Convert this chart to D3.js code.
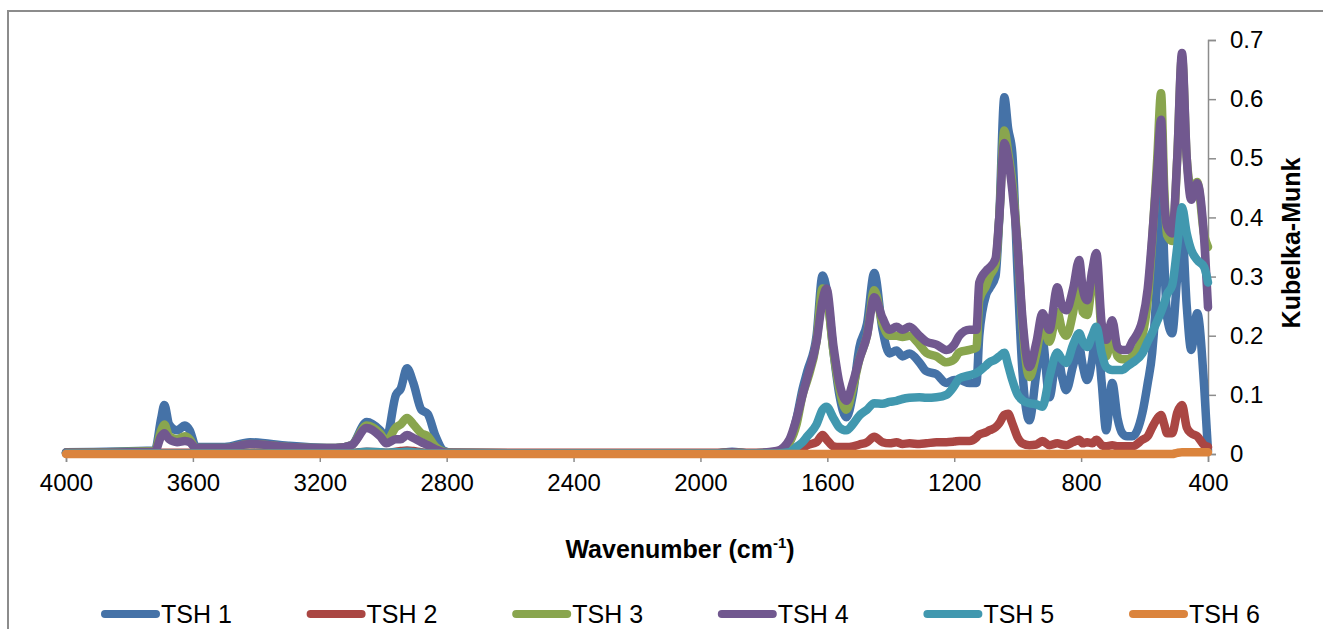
<!DOCTYPE html>
<html lang="en">
<head>
	<meta charset="UTF-8">
	<title>Kubelka-Munk spectra</title>
	<script type="text/javascript" src="https://d3js.org/d3.v7.min.js"></script>
	<style>
		body { margin: 0; background: #fff; }
		text { font-family: "Liberation Sans", Arial, sans-serif; fill: #000; }
	</style>
</head>
<body>
<script>
  // wavenumber grid (cm-1), shared by every series
  const wavenumbers = [
    4000, 3720, 3700, 3690, 3675, 3650, 3625, 3610, 3590, 3500,
    3420, 3300, 3150, 3100, 3052, 3010, 2990, 2960, 2945, 2925,
    2905, 2880, 2860, 2835, 2810, 2780, 2400, 1950, 1900, 1850,
    1760, 1719, 1697, 1678, 1663, 1634, 1615, 1603, 1580, 1562,
    1540, 1520, 1499, 1475, 1452, 1426, 1404, 1382, 1363, 1341,
    1310, 1288, 1256, 1225, 1200, 1184, 1152, 1130, 1121, 1099,
    1089, 1070, 1058, 1042, 1030, 1017, 1000, 985, 963, 941,
    922, 900, 875, 860, 847, 825, 806, 795, 781, 765,
    752, 735, 721, 702, 685, 670, 655, 639, 607, 590,
    576, 560, 548, 538, 529, 513, 497, 482, 467, 453,
    434, 412, 400
  ]

  const tsh1 = [
    0.003, 0.006, 0.06, 0.083, 0.05, 0.04, 0.048, 0.04, 0.012, 0.012,
    0.02, 0.014, 0.01, 0.015, 0.054, 0.04, 0.027, 0.1, 0.11, 0.145,
    0.12, 0.075, 0.068, 0.03, 0.006, 0.002, 0.001, 0.001, 0.004, 0.001,
    0.003, 0.02, 0.06, 0.11, 0.14, 0.2, 0.302, 0.28, 0.17, 0.1,
    0.062, 0.1, 0.18, 0.22, 0.306, 0.21, 0.17, 0.175, 0.165, 0.17,
    0.155, 0.14, 0.135, 0.12, 0.125, 0.125, 0.12, 0.12, 0.2, 0.27,
    0.28, 0.3, 0.4, 0.603, 0.55, 0.509, 0.3, 0.14, 0.057, 0.137,
    0.193, 0.096, 0.171, 0.13, 0.108, 0.15, 0.181, 0.15, 0.125, 0.16,
    0.21, 0.12, 0.04, 0.12, 0.06, 0.035, 0.03, 0.03, 0.069, 0.12,
    0.171, 0.3, 0.47, 0.33, 0.232, 0.204, 0.3, 0.38, 0.25, 0.176,
    0.238, 0.113, 0.005
  ]

  const tsh2 = [
    0.002, 0.002, 0.002, 0.002, 0.002, 0.002, 0.002, 0.002, 0.002, 0.002,
    0.002, 0.002, 0.002, 0.002, 0.004, 0.003, 0.002, 0.004, 0.005, 0.006,
    0.005, 0.003, 0.002, 0.002, 0.002, 0.002, 0.002, 0.002, 0.002, 0.002,
    0.002, 0.003, 0.005, 0.01, 0.015, 0.02, 0.032, 0.025, 0.013, 0.012,
    0.012, 0.013, 0.016, 0.02, 0.029, 0.02, 0.018, 0.02, 0.017, 0.018,
    0.017, 0.018, 0.02, 0.02, 0.021, 0.022, 0.022, 0.028, 0.033, 0.037,
    0.04, 0.045, 0.052, 0.066, 0.068, 0.052, 0.028, 0.018, 0.015, 0.016,
    0.022, 0.015, 0.018, 0.016, 0.015, 0.02, 0.024, 0.018, 0.02, 0.018,
    0.024, 0.015, 0.013, 0.015, 0.013, 0.013, 0.013, 0.013, 0.024, 0.03,
    0.045, 0.06, 0.066, 0.05, 0.035, 0.035, 0.07, 0.083, 0.045, 0.035,
    0.03, 0.015, 0.012
  ]

  const tsh3 = [
    0.002, 0.005, 0.04, 0.05, 0.03, 0.025, 0.03, 0.025, 0.01, 0.01,
    0.017, 0.012, 0.01, 0.015, 0.048, 0.035, 0.022, 0.045, 0.05, 0.061,
    0.05, 0.035, 0.03, 0.012, 0.004, 0.002, 0.001, 0.001, 0.003, 0.001,
    0.003, 0.02, 0.05, 0.1, 0.125, 0.19, 0.28, 0.27, 0.17, 0.11,
    0.075, 0.11, 0.16, 0.2, 0.277, 0.22, 0.2, 0.2, 0.198, 0.2,
    0.185, 0.171, 0.165, 0.155, 0.16, 0.172, 0.176, 0.18, 0.26, 0.285,
    0.3, 0.32, 0.4, 0.547, 0.51, 0.46, 0.35, 0.22, 0.13, 0.17,
    0.22, 0.19, 0.24, 0.21, 0.2, 0.24, 0.3, 0.24, 0.235, 0.29,
    0.32, 0.2, 0.165, 0.2, 0.165, 0.16, 0.16, 0.165, 0.2, 0.26,
    0.36, 0.5, 0.61, 0.45, 0.37, 0.36, 0.5, 0.672, 0.5, 0.45,
    0.46, 0.37, 0.35
  ]

  const tsh4 = [
    0.002, 0.004, 0.03, 0.035, 0.025, 0.02, 0.022, 0.02, 0.01, 0.01,
    0.017, 0.012, 0.01, 0.015, 0.044, 0.03, 0.018, 0.025, 0.025, 0.032,
    0.027, 0.02, 0.015, 0.008, 0.003, 0.002, 0.001, 0.001, 0.003, 0.001,
    0.005, 0.025, 0.06, 0.1, 0.13, 0.19, 0.26, 0.28, 0.18, 0.12,
    0.09, 0.12, 0.16, 0.2, 0.265, 0.23, 0.21, 0.215, 0.21, 0.215,
    0.2, 0.19, 0.185, 0.176, 0.185, 0.2, 0.21, 0.21, 0.29, 0.31,
    0.315, 0.33, 0.4, 0.526, 0.5, 0.446, 0.35, 0.23, 0.147, 0.189,
    0.238, 0.21, 0.282, 0.25, 0.243, 0.28, 0.328, 0.28, 0.26, 0.31,
    0.34, 0.22, 0.193, 0.226, 0.18, 0.176, 0.176, 0.19, 0.226, 0.28,
    0.367, 0.48, 0.565, 0.43, 0.385, 0.373, 0.5, 0.678, 0.5, 0.43,
    0.458, 0.362, 0.248
  ]

  const tsh5 = [
    0.001, 0.001, 0.001, 0.001, 0.001, 0.001, 0.001, 0.001, 0.001, 0.001,
    0.001, 0.001, 0.001, 0.001, 0.004, 0.003, 0.002, 0.003, 0.003, 0.004,
    0.003, 0.002, 0.001, 0.001, 0.001, 0.001, 0.001, 0.001, 0.001, 0.001,
    0.001, 0.003, 0.012, 0.02, 0.03, 0.05, 0.075, 0.08, 0.06, 0.045,
    0.04, 0.05, 0.065, 0.075, 0.086, 0.085, 0.088, 0.09, 0.093, 0.095,
    0.096, 0.095, 0.096, 0.1, 0.115, 0.128, 0.133, 0.137, 0.14, 0.15,
    0.155, 0.16, 0.165, 0.171, 0.15, 0.125, 0.1, 0.091, 0.086, 0.084,
    0.08, 0.13, 0.171, 0.16, 0.154, 0.185, 0.204, 0.19, 0.181, 0.2,
    0.215, 0.17, 0.147, 0.142, 0.142, 0.142, 0.148, 0.154, 0.17, 0.19,
    0.205, 0.225, 0.24, 0.255, 0.27, 0.285, 0.35, 0.417, 0.373, 0.345,
    0.328, 0.316, 0.29
  ]

  const tsh6 = [
    0, 0, 0, 0, 0, 0, 0, 0, 0, 0,
    0, 0, 0, 0, 0, 0, 0, 0, 0, 0,
    0, 0, 0, 0, 0, 0, 0, 0, 0, 0,
    0, 0, 0, 0, 0, 0, 0, 0, 0, 0,
    0, 0, 0, 0, 0, 0, 0, 0, 0, 0,
    0, 0, 0, 0, 0, 0, 0, 0, 0, 0,
    0, 0, 0, 0, 0, 0, 0, 0, 0, 0,
    0, 0, 0, 0, 0, 0, 0, 0, 0, 0,
    0, 0, 0, 0, 0, 0, 0, 0, 0, 0,
    0, 0, 0, 0, 0, 0, 0.002, 0.003, 0.003, 0.003,
    0.003, 0.003, 0.003
  ]

  const seriesNames = ["TSH 1", "TSH 2", "TSH 3", "TSH 4", "TSH 5", "TSH 6"]
  const seriesValues = [tsh1, tsh2, tsh3, tsh4, tsh5, tsh6]
  const colors = ["#4572A7", "#AA4643", "#89A54E", "#71588F", "#4198AF", "#DB843D"]

  const xTicks = [4000, 3600, 3200, 2800, 2400, 2000, 1600, 1200, 800, 400]
  const yTicks = [0, 0.1, 0.2, 0.3, 0.4, 0.5, 0.6, 0.7]

  const width = 1328, height = 629
  const plotArea = {left: 66, right: 1208, top: 40, bottom: 454}

  let svg = d3.select("body").append("svg")
      .attr("width", width)
      .attr("height", height)

  // outer chart frame (only top and left edges are visible in the crop)
  svg.append("path")
      .attr("d", "M8,640V11H1323")
      .attr("fill", "none")
      .attr("stroke", "#8c8c8c")
      .attr("stroke-width", 2)

  let x = d3.scaleLinear()
      .domain([4000, 400])
      .range([plotArea.left, plotArea.right])
  let y = d3.scaleLinear()
      .domain([0, 0.7])
      .range([plotArea.bottom, plotArea.top])

  // x axis
  let xAxis = svg.append("g")
      .attr("transform", "translate(0," + plotArea.bottom + ")")
      .call(d3.axisBottom(x).tickValues(xTicks).tickSize(8).tickPadding(12).tickFormat(d3.format("d")))
  xAxis.select(".domain").attr("stroke", "#8c8c8c").attr("stroke-width", 1.5)
  xAxis.selectAll(".tick line").attr("stroke", "#8c8c8c").attr("stroke-width", 1.5)
  xAxis.selectAll(".tick text").attr("font-size", 24).attr("font-family", "Liberation Sans, Arial, sans-serif")

  // y axis on the right
  let yAxis = svg.append("g")
      .attr("transform", "translate(" + plotArea.right + ",0)")
      .call(d3.axisRight(y).tickValues(yTicks).tickSize(8).tickPadding(14)
        .tickFormat(d => d === 0 ? "0" : d3.format(".1f")(d)))
  yAxis.select(".domain").attr("stroke", "#8c8c8c").attr("stroke-width", 1.5)
  yAxis.selectAll(".tick line").attr("stroke", "#8c8c8c").attr("stroke-width", 1.5)
  yAxis.selectAll(".tick text").attr("font-size", 24).attr("font-family", "Liberation Sans, Arial, sans-serif")

  // axis titles
  let xTitle = svg.append("text")
      .attr("x", 680)
      .attr("y", 558)
      .attr("text-anchor", "middle")
      .attr("font-size", 25)
      .attr("font-weight", "bold")
  xTitle.append("tspan").text("Wavenumber (cm")
  xTitle.append("tspan").attr("font-size", 15).attr("dy", -10).text("-1")
  xTitle.append("tspan").attr("dy", 10).text(")")

  svg.append("text")
      .attr("transform", "translate(1300,243) rotate(-90)")
      .attr("text-anchor", "middle")
      .attr("font-size", 25)
      .attr("font-weight", "bold")
      .text("Kubelka-Munk")

  // spectra
  let line = d3.line()
      .x(d => x(d[0]))
      .y(d => y(d[1]))
      .curve(d3.curveMonotoneX)

  function plot(params) {
    this.selectAll(".spectrum")
      .data(params.data)
      .enter()
        .append("path")
        .classed("spectrum", true)
        .attr("d", vals => line(wavenumbers.map((w, i) => [w, vals[i]])))
        .attr("fill", "none")
        .attr("stroke", (d, i) => colors[i])
        .attr("stroke-width", 8.5)
        .attr("stroke-linejoin", "round")
        .attr("stroke-linecap", "round")
  }

  let chart = svg.append("g").classed("display", true)
  plot.call(chart, {data: seriesValues})

  // legend
  let legend = svg.append("g")
      .attr("transform", "translate(102,614)")
  let items = legend.selectAll(".item")
      .data(seriesNames)
      .enter()
        .append("g")
        .classed("item", true)
        .attr("transform", (d, i) => "translate(" + (i * 205.6) + ",0)")
  items.append("line")
      .attr("x1", 3).attr("x2", 54)
      .attr("stroke", (d, i) => colors[i])
      .attr("stroke-width", 8)
      .attr("stroke-linecap", "round")
  items.append("text")
      .attr("x", 59)
      .attr("y", 9)
      .attr("font-size", 25)
      .text(d => d)
</script>
</body>
</html>
